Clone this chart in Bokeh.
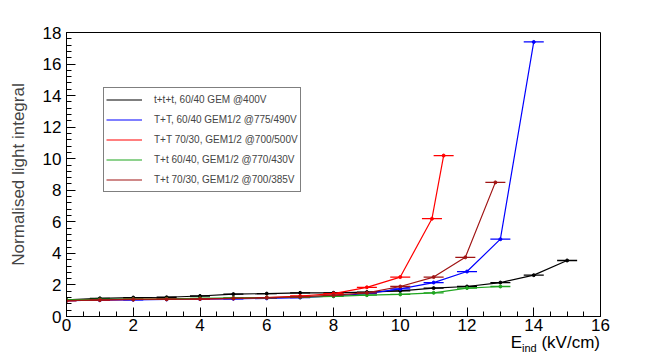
from bokeh.plotting import figure
from bokeh.models import ColumnDataSource, Legend, LegendItem, FixedTicker, Range1d, Div
from bokeh.layouts import column
from bokeh.embed import file_html
from bokeh.resources import INLINE

# ---- data ----
x_ttt = [0, 1, 2, 3, 4, 5, 6, 7, 8, 9, 10, 11, 12, 13, 14, 15]
y_ttt = [1.05, 1.15, 1.2, 1.22, 1.3, 1.42, 1.45, 1.5, 1.5, 1.55, 1.62, 1.8, 1.9, 2.15, 2.62, 3.55]

x_TT6040 = [0, 1, 2, 3, 4, 5, 6, 7, 8, 9, 10, 11, 12, 13, 14]
y_TT6040 = [1.0, 1.03, 1.06, 1.08, 1.1, 1.12, 1.15, 1.2, 1.3, 1.45, 1.75, 2.15, 2.85, 4.9, 17.4]

x_TT7030 = [0, 1, 2, 3, 4, 5, 6, 7, 8, 9, 10, 10.95, 11.3]
y_TT7030 = [1.0, 1.05, 1.08, 1.1, 1.12, 1.15, 1.2, 1.3, 1.45, 1.85, 2.5, 6.2, 10.2]

x_Tt6040 = [0, 1, 2, 3, 4, 5, 6, 7, 8, 9, 10, 11, 12, 13]
y_Tt6040 = [1.05, 1.08, 1.1, 1.12, 1.15, 1.18, 1.2, 1.22, 1.28, 1.35, 1.4, 1.5, 1.8, 1.9]

x_Tt7030 = [0, 1, 2, 3, 4, 5, 6, 7, 8, 9, 10, 11, 11.95, 12.85]
y_Tt7030 = [1.0, 1.05, 1.08, 1.1, 1.12, 1.15, 1.2, 1.25, 1.35, 1.5, 1.9, 2.5, 3.75, 8.5]

x_err = 0.3

labels = ["t+t+t, 60/40 GEM @400V",
          "T+T, 60/40 GEM1/2 @775/490V",
          "T+T 70/30, GEM1/2 @700/500V",
          "T+t 60/40, GEM1/2 @770/430V",
          "T+t 70/30, GEM1/2 @700/385V"]
colors = ["black", "#0000ff", "#ff0000", "#1fa51f", "#a01414"]
series = [(x_ttt, y_ttt), (x_TT6040, y_TT6040), (x_TT7030, y_TT7030),
          (x_Tt6040, y_Tt6040), (x_Tt7030, y_Tt7030)]

x_ticks = [0, 2, 4, 6, 8, 10, 12, 14, 16]
y_ticks = [0, 2, 4, 6, 8, 10, 12, 14, 16, 18]

FONT = "Liberation Sans"

p = figure(frame_width=534, frame_height=284, output_backend="svg", toolbar_location=None,
           x_range=Range1d(0, 16), y_range=Range1d(0, 18),
           min_border_left=66, min_border_right=58, min_border_top=32, min_border_bottom=14)
p.grid.visible = False
p.outline_line_color = "black"
p.outline_line_width = 1
p.background_fill_color = "white"
p.border_fill_color = "white"

for ax in (p.xaxis[0], p.yaxis[0]):
    ax.major_tick_in = 9
    ax.major_tick_out = 0
    ax.minor_tick_in = 5
    ax.minor_tick_out = 0
    ax.major_label_text_font = FONT
    ax.major_label_text_font_size = "17px"
    ax.major_label_text_color = "black"
    ax.axis_line_color = "black"

p.xaxis[0].ticker = FixedTicker(ticks=x_ticks, minor_ticks=[i * 0.5 for i in range(33)])
p.yaxis[0].ticker = FixedTicker(ticks=y_ticks, minor_ticks=[i * 0.4 for i in range(46)])
p.xaxis[0].major_label_standoff = 2
p.yaxis[0].major_label_standoff = 5

p.yaxis[0].axis_label = "Normalised light integral"
p.yaxis[0].axis_label_text_font = FONT
p.yaxis[0].axis_label_text_font_size = "17px"
p.yaxis[0].axis_label_text_font_style = "normal"
p.yaxis[0].axis_label_standoff = 12

empty = ColumnDataSource(dict(x=[], y=[]))
items = []
for (xs, ys), c, lab in zip(series, colors, labels):
    src = ColumnDataSource(dict(x=xs, y=ys,
                                x0=[v - x_err for v in xs],
                                x1=[v + x_err for v in xs]))
    p.segment(x0="x0", x1="x1", y0="y", y1="y", source=src, line_color=c, line_width=1.3)
    lr = p.line("x", "y", source=src, line_color=c, line_width=1.2)
    p.scatter("x", "y", source=src, size=3, color=c)
    dot = p.scatter("x", "y", source=empty, marker="dot", size=14, color=c, line_width=2)
    items.append(LegendItem(label=lab, renderers=[lr, dot]))

legend = Legend(items=items, location=(37, 124), border_line_color="black",
                border_line_width=1, label_text_font=FONT, label_text_font_size="10px",
                glyph_width=36, glyph_height=19, label_height=19, spacing=1,
                padding=2, margin=0, label_standoff=12, background_fill_alpha=1)
p.add_layout(legend, "center")

# x axis title (with subscript) as real HTML text under the figure
xtitle = Div(text=("<div style=\"width:600px;text-align:right;font-family:'Liberation Sans';"
                   "font-size:17px;line-height:20px;color:black;white-space:nowrap;\">"
                   "E<span style=\"font-size:11px;position:relative;top:4px;\">ind</span>"
                   " (kV/cm)</div>"),
             width=658, height=26, margin=(0, 0, 0, 0))

layout = column(p, xtitle, spacing=0)

open("out.html", "w").write(file_html(layout, INLINE))
